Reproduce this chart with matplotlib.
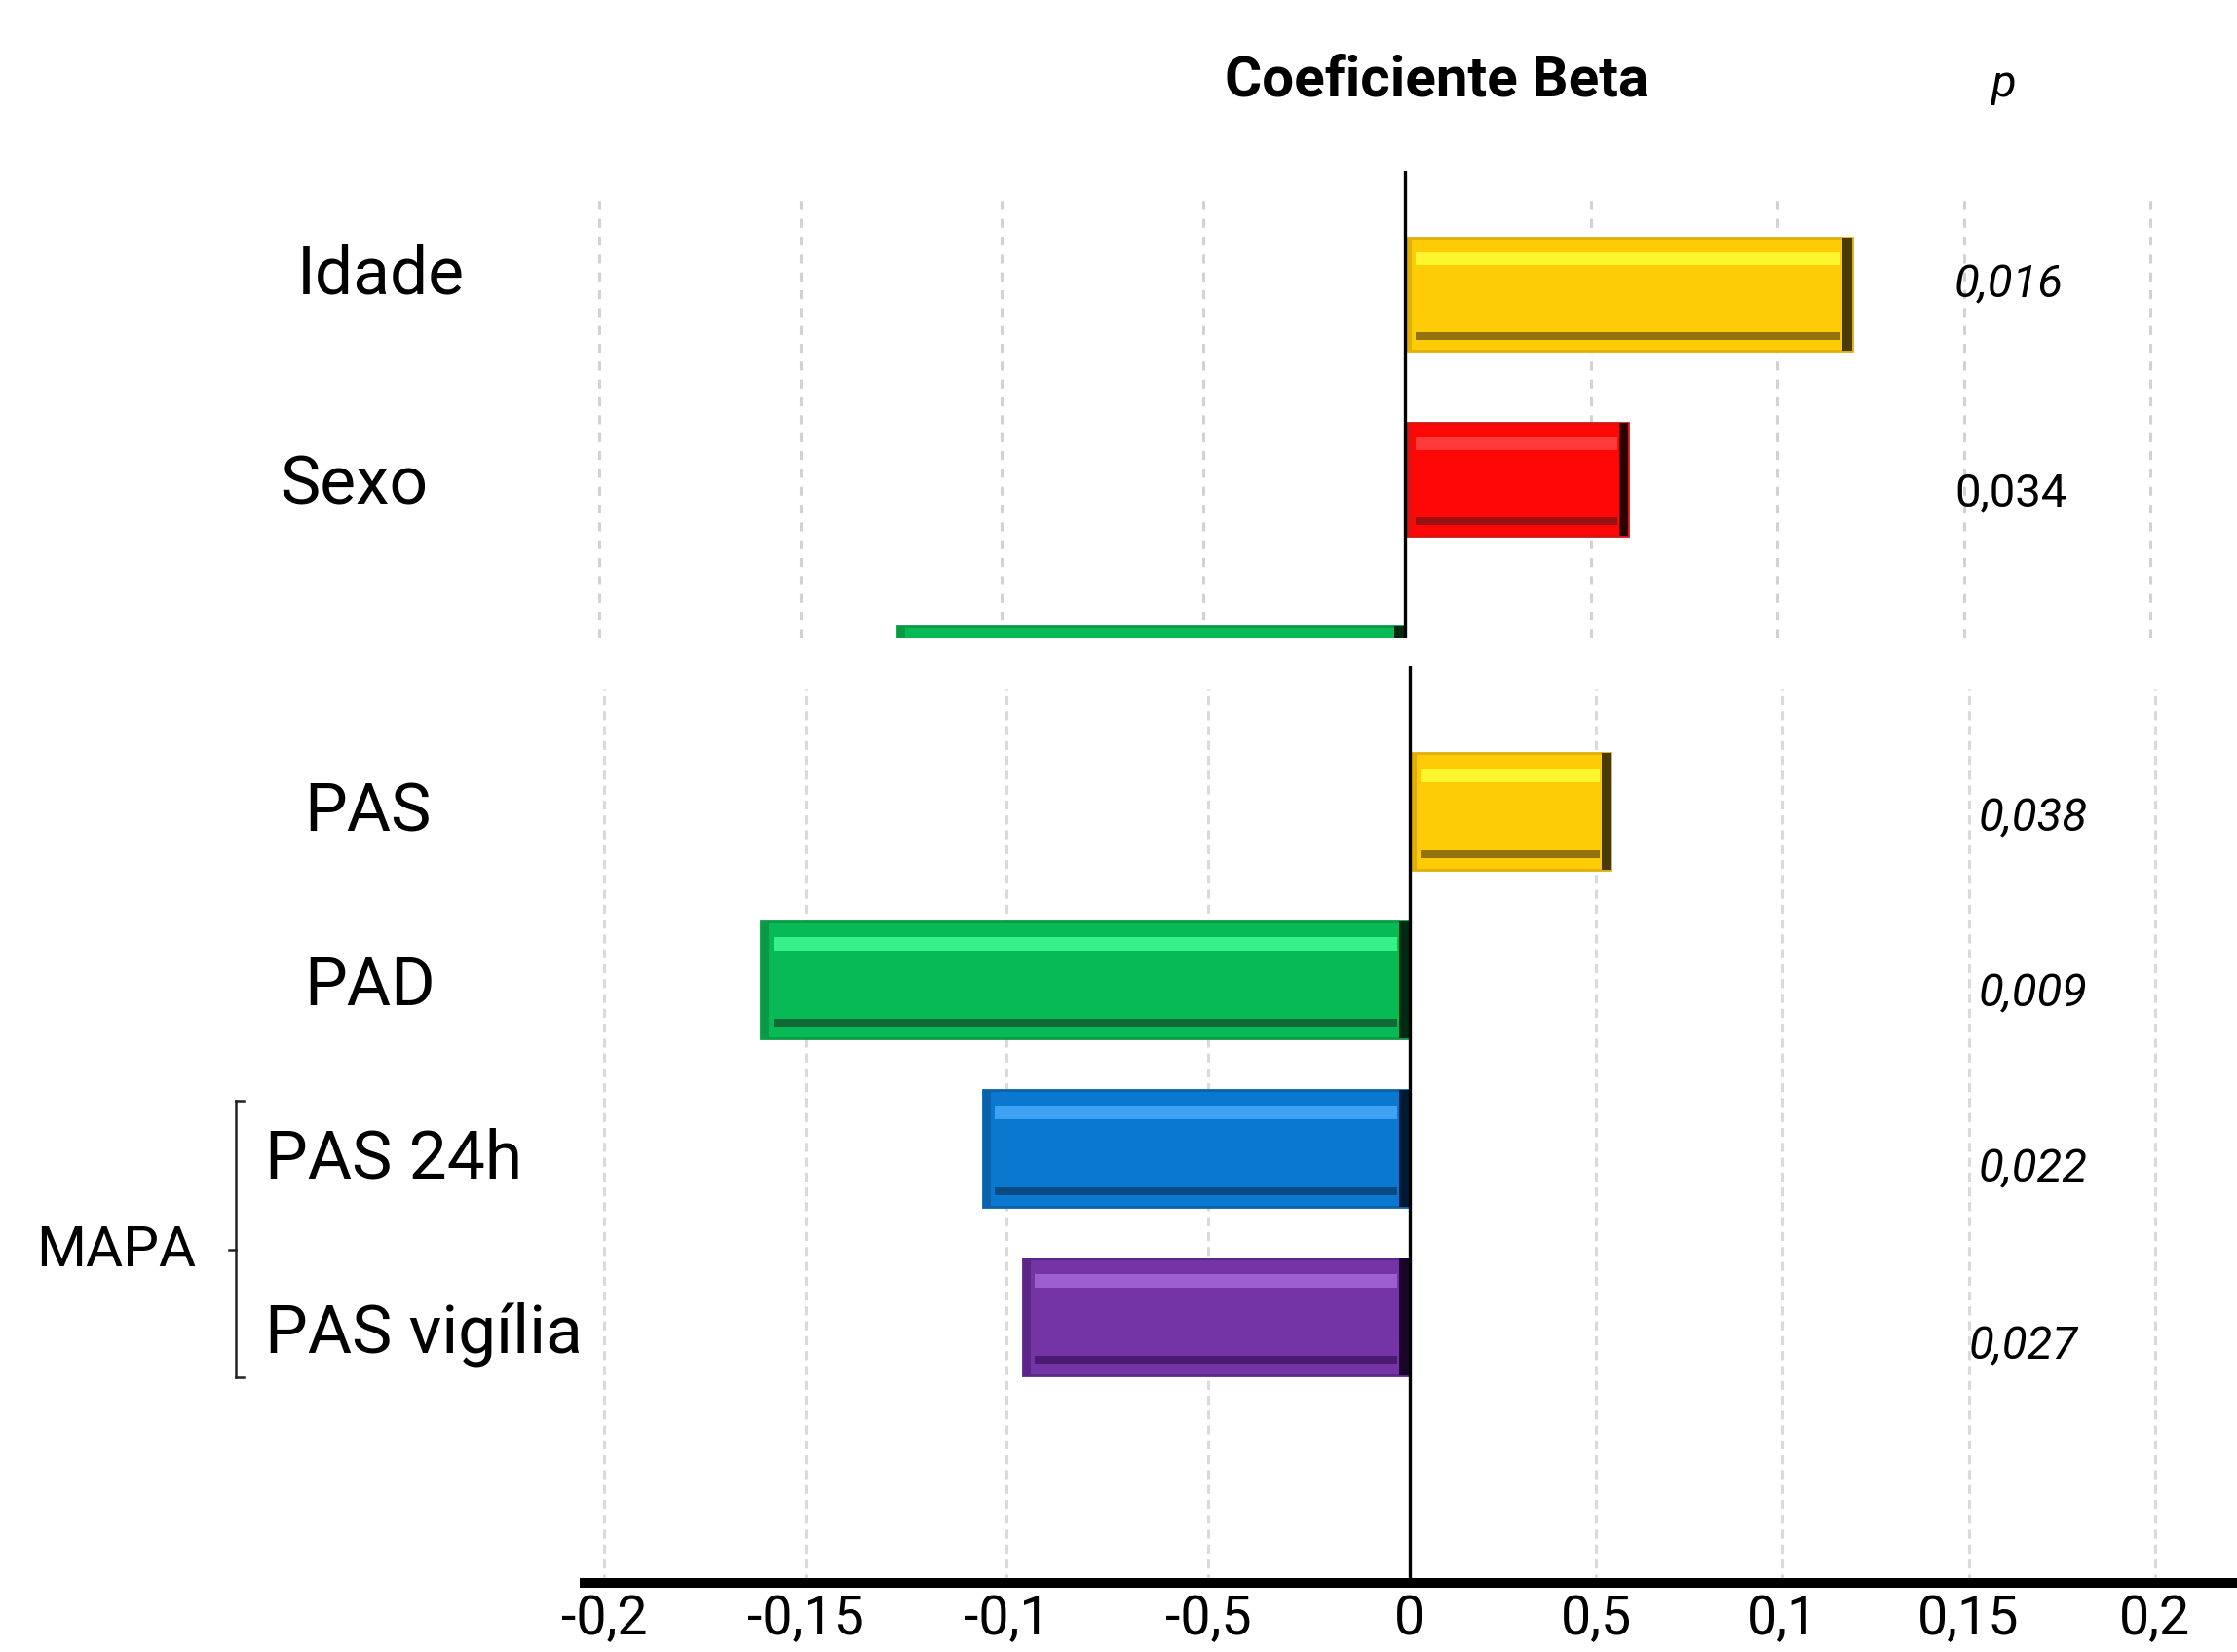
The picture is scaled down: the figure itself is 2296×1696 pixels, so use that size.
import numpy as np
import matplotlib
matplotlib.use("Agg")
import matplotlib.pyplot as plt
from matplotlib import patheffects as pe
from matplotlib.lines import Line2D

# --- data ---
top_labels = ["Idade", "Sexo", ""]
top_beta = [0.12, 0.06, -0.126]
top_p = ["0,016", "0,034"]

bot_labels = ["PAS", "PAD", "PAS 24h", "PAS vigília"]
bot_beta = [0.054, -0.161, -0.106, -0.096]
bot_p = ["0,038", "0,009", "0,022", "0,027"]

tick_vals = [-0.2, -0.15, -0.1, -0.05, 0, 0.05, 0.1, 0.15, 0.2]
tick_text = ["-0,2", "-0,15", "-0,1", "-0,5", "0", "0,5", "0,1", "0,15", "0,2"]

# bar colour sets: main fill, top highlight, bottom shade, edge, far end
yellow = dict(main="#FDCC07", light="#FFF52E", dark="#957210", edge="#E2AE0A", end="#4A3A05")
red = dict(main="#FF0707", light="#FF3A3A", dark="#9C1010", edge="#D81414", end="#2A0000")
green = dict(main="#08BA55", light="#36F08A", dark="#0F6A36", edge="#0A9A45", end="#002A12")
blue = dict(main="#0A78CE", light="#3DA2F2", dark="#0A4A82", edge="#0A62AA", end="#001A33")
purple = dict(main="#7434A6", light="#9C5FD2", dark="#4A1B70", edge="#5E2588", end="#1A0528")
top_colors = [yellow, red, green]
bot_colors = [yellow, green, blue, purple]

FONT = "Roboto"

W, H = 2296, 1696
fig = plt.figure(figsize=(W / 200, H / 200), dpi=200)


def fx(px):
    return px / W


def fy(py):
    return 1 - py / H


def axes_px(left, top, right, bottom):
    return fig.add_axes([fx(left), fy(bottom), (right - left) / W, (bottom - top) / H])


# negative side of the original axis is slightly stretched
K = 1.081


def fwd(x):
    x = np.asarray(x, dtype=float)
    return np.where(x < 0, x * K, x)


def inv(x):
    x = np.asarray(x, dtype=float)
    return np.where(x < 0, x / K, x)


def draw_bar(ax, y, v, h, c):
    x0, x1 = min(0, v), max(0, v)
    w = x1 - x0
    d = 0.003
    ax.barh(y, w, left=x0, height=h, color=c["main"], edgecolor=c["edge"], linewidth=1.0, zorder=2)
    ax.barh(y - h * 0.31, w - 2 * d, left=x0 + d, height=h * 0.11, color=c["light"], linewidth=0, zorder=2.1)
    ax.barh(y + h * 0.37, w - 2 * d, left=x0 + d, height=h * 0.07, color=c["dark"], linewidth=0, zorder=2.1)
    ax.barh(y, 0.002, left=x0, height=h, color=c["edge"], linewidth=0, zorder=2.2)
    ax.barh(y, 0.0025, left=x1 - 0.0025, height=h, color=c["end"], linewidth=0, zorder=2.2)


xlim = (-0.2048, 0.222)
ax_top = axes_px(595, 176, 2291, 655)
ax_bot = axes_px(600, 684, 2296, 1625)

for ax in (ax_top, ax_bot):
    ax.set_xscale("function", functions=(fwd, inv))
    ax.set_xlim(*xlim)
    ax.set_yticks([])
    for s in ax.spines.values():
        s.set_visible(False)
    ax.patch.set_alpha(0)

# top panel (cut off at its bottom)
top_rows = [0, 1, 2.1]
ax_top.set_ylim(1.858, -0.663)
ax_top.set_xticks([])
for t in tick_vals:
    if t != 0:
        ax_top.axvline(t, ymin=0, ymax=455 / 479, color="#D2D2D2", lw=1.1, ls=(0, (3, 3)), zorder=0)
ax_top.axvline(0, color="black", lw=1.2, zorder=3)
for y, v, c in zip(top_rows, top_beta, top_colors):
    draw_bar(ax_top, y, v, 0.615, c)

# bottom panel
bot_rows = np.arange(len(bot_labels))
ax_bot.set_ylim(4.578, -0.861)
for t in tick_vals:
    if t != 0:
        ax_bot.axvline(t, ymin=0, ymax=918 / 941, color="#DADADA", lw=1.1, ls=(0, (3, 2)), zorder=0)
ax_bot.axvline(0, color="black", lw=1.2, zorder=3)
for y, v, c in zip(bot_rows, bot_beta, bot_colors):
    draw_bar(ax_bot, y, v, 0.69, c)

ax_bot.spines["bottom"].set_visible(True)
ax_bot.spines["bottom"].set_linewidth(3.6)
ax_bot.spines["bottom"].set_path_effects(
    [pe.SimplePatchShadow(offset=(0, -3), shadow_rgbFace="#888888", alpha=0.35), pe.Normal()])
ax_bot.set_xticks(tick_vals)
ax_bot.set_xticklabels(tick_text, fontsize=20, family=FONT)
ax_bot.tick_params(axis="x", length=0, pad=4)

# headings
fig.text(fx(1475), fy(83), "Coeficiente Beta", ha="center", va="center",
         fontsize=21, fontweight="bold", family=FONT)
fig.text(fx(2057), fy(86), "p", ha="center", va="center", fontsize=17, style="italic", family=FONT)

# category labels
label_pos = [(305, 283), (287, 498), (312, 834), (312, 1013), (272, 1191), (272, 1370)]
for (lx, ly), txt in zip(label_pos, top_labels[:2] + bot_labels):
    fig.text(fx(lx), fy(ly), txt, ha="left", va="center", fontsize=25, family=FONT)

fig.text(fx(37), fy(1285), "MAPA", ha="left", va="center", fontsize=21, family=FONT)

# bracket around the MAPA rows
bk = dict(color="#222222", lw=0.9)
fig.add_artist(Line2D([fx(242), fx(242)], [fy(1130), fy(1414)], **bk))
fig.add_artist(Line2D([fx(242), fx(250)], [fy(1130), fy(1130)], **bk))
fig.add_artist(Line2D([fx(242), fx(250)], [fy(1414), fy(1414)], **bk))
fig.add_artist(Line2D([fx(235), fx(242)], [fy(1283), fy(1283)], **bk))

# p values
p_pos = [(2006, 292), (2006, 506), (2031, 840), (2031, 1020), (2031, 1200), (2021, 1382)]
p_style = ["italic", "normal", "italic", "italic", "italic", "italic"]
for (px, py), txt, st in zip(p_pos, top_p + bot_p, p_style):
    fig.text(fx(px), fy(py), txt, ha="left", va="center", fontsize=17, style=st, family=FONT)

fig.savefig("out.png", dpi=200, facecolor="white")
